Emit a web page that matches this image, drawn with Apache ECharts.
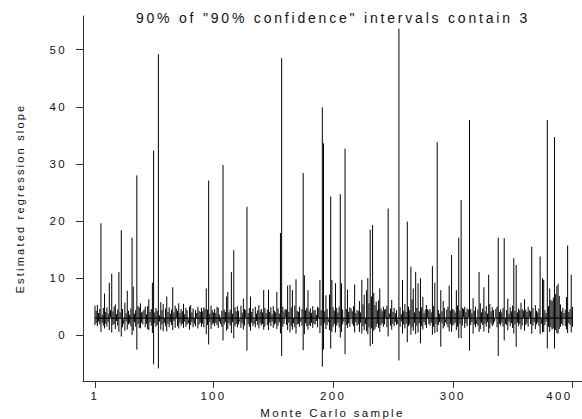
<!DOCTYPE html>
<html>
<head>
<meta charset="utf-8">
<title>Monte Carlo confidence intervals</title>
<script src="https://cdn.jsdelivr.net/npm/echarts@6/dist/echarts.min.js"></script>
<style>
  html, body { margin: 0; padding: 0; background: #fff; }
  #chart { width: 582px; height: 419px; }
  /* the original has widely spaced lettering */
  #chart text { letter-spacing: 0.2em; }
</style>
</head>
<body>
<div id="chart"></div>
<script>
// lower and upper ends of the 400 "90% confidence" intervals, 10 samples per row
const lower = [
  1.8, 2.1, 1.6, 2.4, 1.9, 0.6, 2.2, 1.7, 1.2, 2.0,
  1.5, 2.3, 0.9, 3.2, 0.5, 1.8, 2.0, 1.1, 2.5, 1.7,
  0.6, 3.1, -0.2, 1.4, 2.0, 0.8, 2.4, 1.0, 1.9, 2.1,
  1.6, 0.05, 0.8, 2.3, 1.5, -2.5, 2.0, 1.3, 1.2, 2.2,
  1.9, 3.1, 1.4, 2.0, 1.1, 0.9, 2.3, 1.7, 0.4, -5.1,
  2.1, 1.5, 1.8, -5.8, 2.4, 1.0, 1.9, 0.7, 2.2, 1.6,
  0.7, 2.0, 1.4, 2.3, 1.8, 0.9, 2.5, 1.3, 3.1, 1.6,
  1.2, 2.2, 1.7, 2.0, 1.3, 2.4, 1.5, 1.9, 2.1, 1.0,
  1.8, 2.3, 1.4, 2.0, 1.6, 3.1, 1.2, 1.9, 2.2, 1.5,
  2.0, 1.4, 3.2, 0.2, 1.8, -1.6, 2.3, 1.1, 1.9, 2.1,
  1.6, 2.2, 1.8, 1.3, 2.4, 2.0, 1.5, -0.9, 1.9, 2.3,
  0.8, 1.1, 2.1, 1.7, 0.4, 2.3, -0.5, 1.6, 2.0, 1.4,
  1.9, 2.4, 1.3, 2.1, 1.0, 1.7, 3.1, -2.7, 2.0, 1.5,
  0.8, 2.2, 1.6, 2.0, 1.4, 2.5, 1.8, 1.2, 2.1, 1.7,
  2.0, 1.0, 1.5, 3.1, 1.8, 0.9, 2.2, 1.6, 2.4, 1.3,
  1.9, 2.1, 1.1, 1.7, 2.3, 0.35, -3.6, 1.5, 2.0, 3.2,
  1.8, 0.9, 2.2, 0.5, 1.6, 1.0, 2.1, 1.4, 0.3, 1.9,
  2.0, 1.5, 2.4, 1.7, -2.6, 0.2, 2.1, 1.6, 1.0, 1.8,
  1.6, 2.2, 1.3, 2.0, 1.9, 2.5, 1.4, 3.1, 0.4, 1.7,
  -5.5, -2.5, 2.1, 1.1, 1.8, 2.3, 0.9, -2.3, 0.6, 1.5,
  2.0, 0.5, 1.7, 2.2, 1.4, -0.4, 0.6, 1.9, 2.4, -3.3,
  1.8, 1.3, 2.1, 1.5, 3.2, 2.0, 1.6, 0.5, 2.3, 1.7,
  1.9, 0.6, 2.2, 0.3, 1.6, 0.9, 2.0, 0.7, 0.2, 1.4,
  -1.9, 1.2, -1.5, 0.8, 1.1, 1.5, 2.0, 1.3, 0.6, 1.8,
  2.1, 1.5, 1.9, 3.1, 1.4, -0.2, 3.1, 1.7, 1.0, 2.0,
  1.6, 2.3, 1.8, 2.0, -4.4, 1.5, 2.4, 0.3, 1.9, 1.2,
  2.0, -1.2, 1.6, 1.9, 0.1, 1.4, 0.8, 2.2, 0.2, 1.7,
  0.5, 2.1, -1.4, 1.6, 1.0, 2.3, 1.8, 1.3, 3.1, 2.0,
  1.7, 2.2, 0.1, 1.5, 0.4, 2.0, 0.6, 1.8, 2.3, -2.0,
  2.1, 1.2, 1.6, 2.3, 1.9, 1.4, 0.7, 2.0, 0.6, 1.7,
  1.9, 2.2, 0.9, 1.5, -0.5, 2.0, -0.5, 1.7, 3.2, 1.3,
  2.1, 1.6, 3.2, -2.7, 1.8, 2.3, 0.3, 1.9, 1.4, 2.0,
  1.7, 0.6, 1.1, 2.2, 1.8, 0.7, 2.0, 1.5, 2.3, 0.4,
  1.2, 2.1, 1.6, 1.9, 2.4, 3.1, 1.4, -3.6, 2.0, 1.7,
  2.2, 1.5, -0.9, 2.0, 1.8, 0.9, 2.3, 1.6, 2.1, 1.3,
  0.3, 1.9, -2.0, 2.2, 1.6, 2.0, 1.0, 1.7, 3.1, 0.8,
  1.8, 2.1, 1.5, 3.2, 2.0, 0.3, 1.7, 2.3, 1.1, 1.9,
  2.2, 1.6, 0.2, 2.0, 0.5, 0.6, 1.8, 2.4, -2.3, 1.5,
  0.6, 1.4, 1.0, 1.2, -2.3, 0.9, 0.4, 0.3, 1.1, 1.5,
  2.0, 1.7, 3.1, 1.6, 1.0, 0.4, 2.1, 1.8, 0.5, 1.5
];
const upper = [
  5.2, 4.3, 5.3, 3.9, 4.6, 19.6, 3.6, 4.8, 7.3, 4.1,
  4.9, 3.8, 9.2, 4.4, 10.8, 4.2, 5.0, 5.4, 3.7, 4.5,
  11.1, 4.0, 18.4, 4.6, 2.8, 5.7, 3.9, 7.8, 4.3, 3.6,
  4.7, 17.1, 8.5, 3.8, 4.4, 28.0, 5.1, 4.9, 5.6, 4.0,
  4.2, 4.5, 5.0, 3.7, 5.1, 6.3, 4.1, 4.6, 9.2, 32.3,
  4.0, 4.8, 4.3, 49.2, 3.5, 5.8, 4.4, 5.5, 2.9, 4.7,
  6.8, 4.1, 4.9, 3.8, 4.5, 8.4, 4.0, 5.2, 4.7, 4.3,
  5.6, 3.9, 4.6, 4.2, 5.5, 3.7, 4.8, 4.4, 2.8, 5.0,
  5.3, 4.0, 4.7, 2.9, 4.4, 3.9, 5.0, 4.3, 4.1, 4.8,
  4.2, 4.9, 4.6, 8.2, 4.5, 27.1, 3.8, 5.2, 4.4, 4.0,
  4.6, 3.9, 5.0, 4.8, 3.6, 2.9, 4.3, 29.8, 4.5, 4.1,
  6.8, 7.6, 4.0, 4.5, 11.1, 3.8, 14.9, 4.9, 4.2, 5.1,
  4.3, 2.8, 5.2, 4.0, 6.4, 4.6, 4.4, 22.5, 3.9, 4.8,
  6.8, 4.1, 4.7, 2.8, 5.0, 3.8, 4.4, 5.3, 4.2, 4.6,
  4.0, 7.9, 4.8, 3.9, 4.5, 8.0, 4.1, 4.9, 3.7, 5.1,
  4.3, 4.0, 7.6, 4.7, 3.8, 17.9, 48.5, 5.0, 4.2, 4.6,
  4.5, 8.7, 4.1, 8.8, 4.9, 7.9, 2.9, 5.2, 9.8, 4.3,
  4.1, 5.0, 2.9, 4.6, 28.4, 10.5, 4.4, 4.8, 7.9, 4.2,
  4.7, 3.9, 5.1, 4.3, 4.5, 3.6, 5.0, 4.8, 9.7, 4.4,
  39.9, 33.6, 4.2, 7.0, 4.6, 2.8, 7.1, 24.3, 9.7, 4.9,
  4.3, 9.1, 4.8, 4.0, 5.0, 24.7, 9.1, 4.5, 2.9, 32.7,
  4.6, 8.0, 4.1, 4.9, 4.7, 4.2, 5.1, 8.9, 3.9, 4.4,
  4.3, 6.0, 4.0, 9.7, 5.4, 7.1, 2.9, 7.9, 10.0, 5.6,
  18.5, 6.8, 19.3, 7.4, 5.3, 5.9, 4.4, 6.1, 8.2, 4.7,
  4.2, 5.0, 4.5, 4.6, 5.2, 22.2, 3.8, 4.7, 6.2, 4.1,
  4.8, 3.9, 4.4, 2.8, 53.7, 4.9, 3.7, 9.7, 4.3, 5.5,
  4.1, 19.9, 5.0, 4.4, 12.0, 6.3, 8.2, 4.0, 11.1, 4.8,
  9.1, 4.2, 10.0, 4.9, 6.7, 3.9, 4.5, 5.3, 4.6, 4.3,
  4.6, 4.0, 12.1, 5.1, 9.2, 2.9, 33.8, 4.4, 3.8, 7.9,
  4.2, 6.0, 4.8, 2.8, 4.5, 5.0, 8.7, 4.3, 14.05, 4.6,
  4.4, 4.0, 7.9, 5.2, 17.1, 4.3, 23.7, 4.8, 4.6, 5.0,
  4.1, 4.7, 4.5, 37.7, 4.6, 3.9, 6.5, 4.3, 5.0, 2.8,
  4.5, 11.1, 5.6, 4.0, 4.7, 8.4, 4.2, 5.1, 3.8, 10.6,
  5.5, 4.2, 4.9, 4.4, 2.9, 4.6, 5.0, 17.1, 4.1, 4.5,
  4.0, 4.8, 17.0, 2.9, 4.4, 6.4, 3.8, 4.9, 4.2, 5.2,
  13.5, 4.3, 12.3, 4.0, 4.7, 4.4, 5.7, 4.6, 4.3, 6.3,
  4.5, 4.1, 5.0, 4.4, 4.2, 15.5, 4.8, 2.9, 5.3, 4.3,
  4.0, 4.7, 13.8, 2.9, 10.0, 9.7, 4.4, 3.9, 37.7, 5.1,
  8.2, 6.2, 6.0, 6.6, 34.7, 7.2, 8.6, 9.0, 6.9, 5.4,
  4.2, 4.8, 3.9, 4.5, 6.7, 15.7, 4.1, 4.6, 10.6, 5.0
];
const trueSlope = 3;
const xTicks = [1, 100, 200, 300, 400];
const yTicks = [0, 10, 20, 30, 40, 50];

const font = 'Liberation Sans, Arial, Helvetica, sans-serif';
const ink = '#111';
const axisColor = '#333';

// sample number, lower end, upper end
const intervals = lower.map((lo, i) => [i + 1, lo, upper[i]]);

const chart = echarts.init(document.getElementById('chart'), null, { renderer: 'svg' });

chart.setOption({
  animation: false,
  title: {
    text: '90% of "90% confidence" intervals contain 3',
    left: 333,
    top: 11,
    padding: 0,
    textAlign: 'center',
    textStyle: { fontFamily: font, fontSize: 14, fontWeight: 'normal', color: ink }
  },
  grid: { left: 83, right: 0, top: 16, bottom: 38, containLabel: false, outerBoundsMode: 'none' },
  xAxis: {
    type: 'value',
    min: -9,
    max: 408,
    name: 'Monte Carlo sample',
    nameLocation: 'middle',
    nameGap: 24,
    nameTextStyle: { fontFamily: font, fontSize: 11.5, color: ink },
    axisLine: { onZero: false, lineStyle: { color: axisColor, width: 1 } },
    axisTick: { length: 7, customValues: xTicks, lineStyle: { color: axisColor } },
    // last label kept inside the page edge
    axisLabel: { customValues: xTicks, margin: 9, alignMaxLabel: 'right', fontFamily: font, fontSize: 11.5, color: ink },
    splitLine: { show: false }
  },
  yAxis: {
    type: 'value',
    min: -8,
    max: 55.9,
    name: 'Estimated regression slope',
    nameLocation: 'middle',
    nameGap: 58,
    nameTextStyle: { fontFamily: font, fontSize: 11, color: ink },
    axisLine: { show: true, onZero: false, lineStyle: { color: axisColor, width: 1 } },
    axisTick: { show: true, length: 7, customValues: yTicks, lineStyle: { color: axisColor } },
    axisLabel: { customValues: yTicks, margin: 16, fontFamily: font, fontSize: 11.5, color: ink },
    splitLine: { show: false }
  },
  series: [
    {
      type: 'custom',
      data: intervals,
      encode: { x: 0, y: [1, 2] },
      renderItem: function (params, api) {
        const x = api.value(0);
        const p1 = api.coord([x, api.value(1)]);
        const p2 = api.coord([x, api.value(2)]);
        return {
          type: 'line',
          shape: { x1: p1[0], y1: p1[1], x2: p2[0], y2: p2[1] },
          style: { stroke: '#000', lineWidth: 1 }
        };
      },
      z: 2
    },
    {
      type: 'line',
      data: [[1, trueSlope], [400, trueSlope]],
      symbol: 'none',
      lineStyle: { color: '#000', width: 1.2 },
      z: 3
    }
  ]
});
</script>
</body>
</html>
